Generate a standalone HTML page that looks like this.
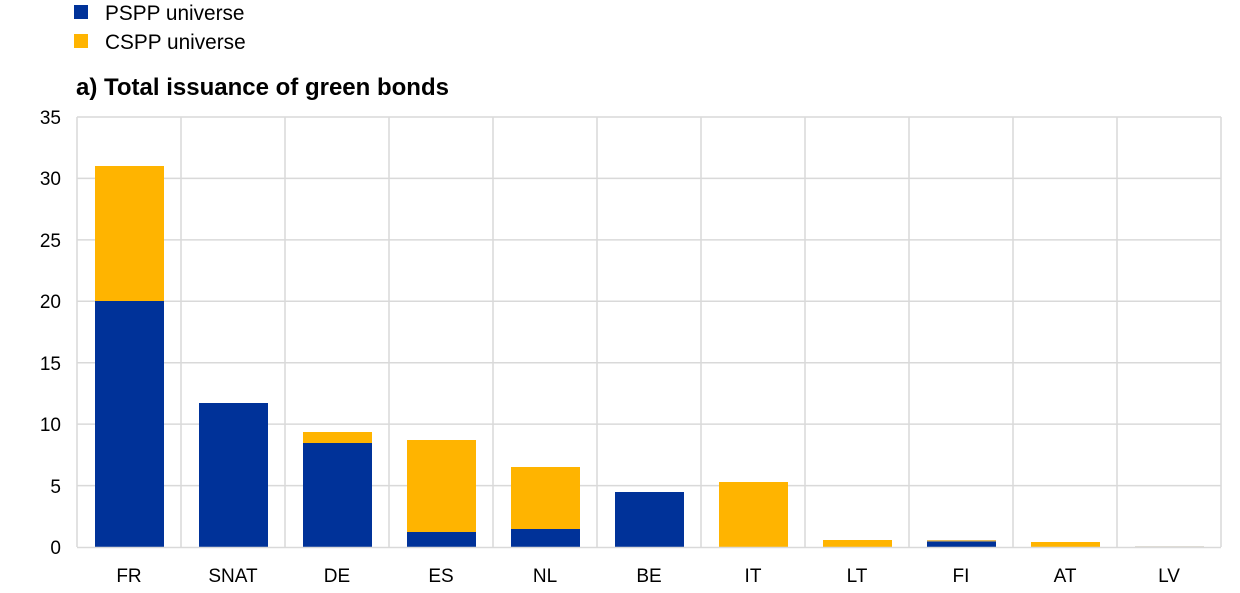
<!DOCTYPE html><html><head><style>body{margin:0;background:#fff}svg{display:block}text{font-family:"Liberation Sans",Arial,sans-serif}</style></head><body>
<svg width="1240" height="593" xmlns="http://www.w3.org/2000/svg">
<rect x="74" y="5" width="14" height="14" fill="#003299"/><text x="105" y="20" font-size="20.8">PSPP universe</text>
<rect x="74" y="34" width="14" height="14" fill="#FFB400"/><text x="105" y="49" font-size="20.8">CSPP universe</text>
<text x="76" y="95" font-size="24" font-weight="bold">a) Total issuance of green bonds</text>
<g stroke="#d9d9d9" stroke-width="1.5">
<line x1="77" x2="1221" y1="117" y2="117"/><line x1="77" x2="1221" y1="178.4" y2="178.4"/><line x1="77" x2="1221" y1="239.9" y2="239.9"/><line x1="77" x2="1221" y1="301.3" y2="301.3"/><line x1="77" x2="1221" y1="362.7" y2="362.7"/><line x1="77" x2="1221" y1="424.1" y2="424.1"/><line x1="77" x2="1221" y1="485.6" y2="485.6"/>
<line x1="77" x2="77" y1="117" y2="547"/><line x1="181" x2="181" y1="117" y2="547"/><line x1="285" x2="285" y1="117" y2="547"/><line x1="389" x2="389" y1="117" y2="547"/><line x1="493" x2="493" y1="117" y2="547"/><line x1="597" x2="597" y1="117" y2="547"/><line x1="701" x2="701" y1="117" y2="547"/><line x1="805" x2="805" y1="117" y2="547"/><line x1="909" x2="909" y1="117" y2="547"/><line x1="1013" x2="1013" y1="117" y2="547"/><line x1="1117" x2="1117" y1="117" y2="547"/><line x1="1221" x2="1221" y1="117" y2="547"/>
</g>
<g font-size="19" text-anchor="end">
<text x="61" y="124">35</text><text x="61" y="185">30</text><text x="61" y="247">25</text><text x="61" y="308">20</text><text x="61" y="370">15</text><text x="61" y="431">10</text><text x="61" y="493">5</text><text x="61" y="554">0</text>
</g>
<g>
<rect x="95" y="301" width="69" height="246" fill="#003299"/><rect x="95" y="166" width="69" height="135" fill="#FFB400"/>
<rect x="199" y="403" width="69" height="144" fill="#003299"/>
<rect x="303" y="443" width="69" height="104" fill="#003299"/><rect x="303" y="432" width="69" height="11" fill="#FFB400"/>
<rect x="407" y="532" width="69" height="15" fill="#003299"/><rect x="407" y="440" width="69" height="92" fill="#FFB400"/>
<rect x="511" y="529" width="69" height="18" fill="#003299"/><rect x="511" y="467" width="69" height="62" fill="#FFB400"/>
<rect x="615" y="492" width="69" height="55" fill="#003299"/>
<rect x="719" y="482" width="69" height="65" fill="#FFB400"/>
<rect x="823" y="540" width="69" height="7" fill="#FFB400"/>
<rect x="927" y="541" width="69" height="6" fill="#003299"/><rect x="927" y="540" width="69" height="1.5" fill="#e0b860"/>
<rect x="1031" y="542" width="69" height="5" fill="#FFB400"/>
<rect x="1135" y="546" width="69" height="1.5" fill="#e0dcd5"/>
</g>
<line x1="77" x2="1221" y1="547.5" y2="547.5" stroke="#d9d9d9" stroke-width="1.5"/>
<g font-size="19" text-anchor="middle">
<text x="129" y="582">FR</text><text x="233" y="582">SNAT</text><text x="337" y="582">DE</text><text x="441" y="582">ES</text><text x="545" y="582">NL</text><text x="649" y="582">BE</text><text x="753" y="582">IT</text><text x="857" y="582">LT</text><text x="961" y="582">FI</text><text x="1065" y="582">AT</text><text x="1169" y="582">LV</text>
</g>
</svg></body></html>
